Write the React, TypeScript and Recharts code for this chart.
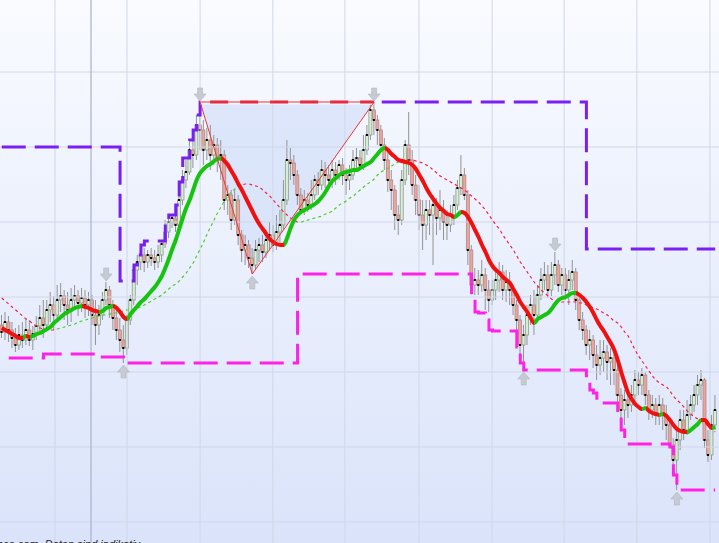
import React from 'react';
import { ComposedChart, Bar, Line, XAxis, YAxis, ReferenceLine, ReferenceArea, ReferenceDot } from 'recharts';

// daily candles: [open, high, low, close]
const ohlc: number[][] = [
  [675,685,662,668],[668,688,660,678],[678,684,658,670],[670,678,652,662],[662,672,648,655],
  [655,675,650,665],[665,678,652,660],[660,682,655,670],[670,680,654,660],[660,674,650,666],
  [666,684,660,674],[674,695,668,682],[682,700,662,675],[675,700,670,690],[690,708,678,695],
  [695,704,670,685],[685,715,682,700],[700,717,688,704],[704,710,680,695],[695,708,675,690],
  [690,712,678,700],[700,715,690,704],[704,710,684,697],[697,712,688,702],[702,710,682,695],
  [695,708,684,700],[700,705,675,685],[685,700,655,675],[675,695,665,685],[685,708,680,700],
  [700,718,695,710],[710,714,682,695],[695,700,670,682],[682,690,660,670],[670,682,648,660],
  [660,675,637,652],[652,685,645,680],[680,705,675,700],[700,735,695,730],[730,745,715,738],
  [738,755,730,745],[745,752,728,738],[738,750,732,745],[745,752,734,742],[742,750,730,738],
  [738,755,732,745],[745,758,738,756],[756,780,752,768],[768,785,762,778],[778,784,772,782],
  [782,795,768,775],[775,818,772,800],[800,830,795,820],[820,840,812,828],[828,860,825,850],
  [850,862,832,845],[845,885,840,875],[875,898,850,870],[870,880,835,850],[850,872,840,860],
  [860,875,830,845],[845,865,835,855],[855,862,828,840],[840,860,820,845],[845,850,790,800],
  [800,815,785,805],[805,810,770,780],[780,810,775,800],[800,805,755,765],[765,770,738,750],
  [750,765,735,755],[755,760,732,742],[742,752,726,735],[735,760,730,750],[750,762,738,755],
  [755,765,738,748],[748,770,742,760],[760,778,750,765],[765,775,748,755],[755,785,750,768],
  [768,790,755,775],[775,820,770,800],[800,860,795,840],[840,852,820,837],[837,845,815,825],
  [825,830,795,805],[805,812,785,790],[790,810,785,800],[800,807,788,795],[795,820,790,805],
  [805,825,800,820],[820,828,805,815],[815,840,810,830],[830,838,812,825],[825,835,810,820],
  [820,840,812,830],[830,838,815,825],[825,840,820,835],[835,842,815,825],[825,832,805,820],
  [820,835,810,825],[825,850,820,840],[840,852,832,842],[842,850,830,835],[835,865,830,850],
  [850,875,845,865],[865,895,860,890],[890,898,865,880],[880,885,855,870],[870,875,848,855],
  [855,862,830,840],[840,850,808,820],[820,830,790,810],[810,815,770,785],[785,795,765,780],
  [780,830,775,820],[820,860,815,855],[855,888,825,840],[840,850,805,815],[815,825,785,800],
  [800,815,770,785],[785,800,750,775],[775,800,760,790],[790,800,765,785],[785,805,735,795],
  [795,802,765,782],[782,810,770,790],[790,800,760,778],[778,790,760,775],[775,795,768,785],
  [785,805,775,795],[795,820,790,812],[812,845,805,825],[825,832,800,805],[805,810,735,750],
  [750,755,708,715],[715,732,705,720],[720,730,705,715],[715,740,708,725],[725,732,690,710],
  [710,720,688,700],[700,720,695,710],[710,730,700,720],[720,738,708,728],[728,735,700,710],
  [710,730,698,718],[718,728,695,710],[710,715,685,695],[695,700,670,680],[680,685,637,655],
  [655,675,630,665],[665,695,655,685],[685,705,675,695],[695,710,665,685],[685,715,680,705],
  [705,732,700,720],[720,738,710,725],[725,735,702,710],[710,738,704,725],[725,748,715,735],
  [735,740,708,715],[715,732,705,725],[725,732,700,710],[710,730,695,720],[720,740,710,728],
  [728,732,690,700],[700,705,670,680],[680,688,660,670],[670,675,645,655],[655,670,640,660],
  [660,665,632,645],[645,655,620,635],[635,660,625,642],[642,660,628,648],[648,655,620,638],
  [638,652,615,642],[642,650,615,630],[630,635,595,605],[605,612,580,590],[590,610,575,600],
  [600,608,582,595],[595,615,588,605],[605,630,595,620],[620,628,605,615],[615,632,605,625],
  [625,628,595,605],[605,610,580,590],[590,605,582,595],[595,602,575,585],[585,605,575,595],
  [595,602,570,585],[585,595,560,575],[575,582,554,555],[555,562,525,540],[540,570,510,560],
  [560,590,550,580],[580,590,560,570],[570,600,565,585],[585,605,580,595],[595,615,588,605],
  [605,625,595,615],[615,630,600,620],[620,622,552,560],[560,570,538,545],[545,585,540,575],
  [575,605,570,590],
];

// fast moving average (thick line)
const fastMA: number[] = [
  672,670,668,666,664,662,662,664,663,664,
  666,667,669,671,673,677,680,683,686,688,
  690,692,693,694,693,692,690,689,688,689,
  692,693,694,692,688,683,681,686,690,694,
  698,701,705,709,713,718,724,732,741,751,
  760,771,782,792,800,810,820,827,831,834,
  836,839,841,842,839,835,829,823,816,810,
  803,796,789,782,776,771,766,761,758,756,
  755,755,762,772,780,785,788,790,792,794,
  796,799,803,808,814,819,822,825,827,828,
  829,830,830,832,834,836,838,842,846,850,
  852,850,846,843,840,839,838,837,835,831,
  825,819,812,806,801,796,792,789,786,785,
  783,785,788,787,783,777,770,763,755,748,
  740,734,730,727,723,720,717,711,705,698,
  693,688,682,677,681,683,685,687,691,696,
  700,702,703,705,707,707,705,702,698,693,
  687,680,674,669,663,657,650,640,628,617,
  607,601,596,593,591,592,589,587,586,585,
  586,584,580,575,571,569,568,568,570,573,
  576,580,580,576,572,573,
];

// slow moving average (thin dashed line)
const slowMA: number[] = [
  702,699,696,693,690,687,684,681,679,676,
  674,672,671,670,670,670,671,672,673,674,
  675,676,678,679,680,681,682,683,684,685,
  685,686,687,687,688,689,690,690,691,692,
  693,695,697,699,701,703,705,708,711,714,
  716,719,723,727,732,737,744,751,758,766,
  773,780,787,793,799,804,808,811,814,815,
  816,816,815,814,813,810,807,804,800,796,
  792,788,785,782,780,778,778,779,780,781,
  782,783,784,786,787,789,792,795,797,799,
  802,804,807,810,813,816,818,821,825,828,
  830,832,834,836,838,839,840,840,840,839,
  838,837,835,833,830,827,824,822,820,818,
  816,814,812,810,807,804,801,798,794,790,
  785,780,775,771,765,760,755,750,744,738,
  733,728,723,718,714,710,707,704,701,699,
  698,698,698,698,698,698,697,697,695,694,
  692,691,689,687,685,682,679,677,673,668,
  664,657,650,644,639,634,629,624,620,617,
  615,613,609,604,600,597,593,589,586,583,
  581,579,577,574,571,568,
];

// upper channel (highest high)
const upperBand: number[] = [
  853,853,853,853,853,853,853,853,853,853,
  853,853,853,853,853,853,853,853,853,853,
  853,853,853,853,853,853,853,853,853,853,
  853,853,853,853,719,719,719,719,735,745,
  755,759,759,759,759,759,759,780,785,785,
  795,818,842,842,860,870,885,898,898,898,
  898,898,898,898,898,898,898,898,898,898,
  898,898,898,898,898,898,898,898,898,898,
  898,898,898,898,898,898,898,898,898,898,
  898,898,898,898,898,898,898,898,898,898,
  898,898,898,898,898,898,898,898,898,898,
  898,898,898,898,898,898,898,898,898,898,
  898,898,898,898,898,898,898,898,898,898,
  898,898,898,898,898,898,898,898,898,898,
  898,898,898,898,898,898,898,898,898,898,
  898,898,898,898,898,898,898,898,898,898,
  898,898,898,898,898,898,898,898,751,751,
  751,751,751,751,751,751,751,751,751,751,
  751,751,751,751,751,751,751,751,751,751,
  751,751,751,751,751,751,751,751,751,751,
  751,751,751,751,751,751,
];

// lower channel (lowest low)
const lowerBand: (number | null)[] = [
  null,null,642,642,642,642,642,642,642,642,
  642,642,646,646,646,646,646,646,646,646,
  646,646,646,646,646,646,646,643,643,643,
  643,643,643,643,643,637,637,637,637,637,
  637,637,637,637,637,637,637,637,637,637,
  637,637,637,637,637,637,637,637,637,637,
  637,637,637,637,637,637,637,637,637,637,
  637,637,637,637,637,637,637,637,637,637,
  637,637,637,637,637,726,726,726,726,726,
  726,726,726,726,726,726,726,726,726,726,
  726,726,726,726,726,726,726,726,726,726,
  726,726,726,726,726,726,726,726,726,726,
  726,726,726,726,726,726,726,726,726,726,
  726,726,726,726,726,705,688,687,687,680,
  670,669,669,669,669,669,669,669,653,637,
  630,630,630,630,630,630,630,630,630,630,
  630,630,630,630,630,630,630,630,618,610,
  607,598,597,597,597,597,597,583,570,556,
  556,556,556,556,556,556,556,556,556,556,
  556,556,553,525,510,510,510,510,510,510,
  510,510,510,510,510,510,
];

// colour of the moving averages: segment starting at index -> trend
const fastTrend: [number, string][] = [
  [0,'down'],[6,'up'],[7,'down'],[8,'up'],[23,'down'],[28,'up'],[32,'down'],[36,'up'],
  [63,'down'],[81,'up'],[110,'down'],[130,'up'],[132,'down'],[153,'up'],[165,'down'],
  [184,'up'],[185,'down'],[189,'up'],[190,'down'],[197,'up'],[201,'down'],[204,'up'],
];
const slowTrend: [number, string][] = [[0,'down'],[15,'up'],[69,'down'],[86,'up'],[117,'down']];

const gridPrices = [928, 853, 778, 703, 628, 553, 478];
const gridDates = [15.3, 36.0, 57.0, 77.9, 98.6, 119.9, 140.9, 161.6, 182.5, 203.5];
const yearStart = 25.65;

// triangle pattern: left top, bottom, right top
const triangle = { left: 57, bottom: 72, right: 107, top: 898, low: 726 };
const triangleEdges = [{ i: 57, v: 898 }, { i: 72, v: 726 }, { i: 107, v: 898 }];
const triangleTop = [{ i: 57, v: 898 }, { i: 107, v: 898 }];

const peakMarkers = [{ i: 30, v: 718 }, { i: 57, v: 898 }, { i: 107, v: 898 }, { i: 159, v: 748 }];
const troughMarkers = [{ i: 35, v: 637 }, { i: 72, v: 726 }, { i: 150, v: 630 }, { i: 194, v: 510 }];

const footer = 'nce.com. Daten sind indikativ';

const data = ohlc.map(([o, h, l, c], i) => ({
  i, o, h, l, c, range: [l, h],
  fast: fastMA[i], slow: slowMA[i], upper: upperBand[i], lower: lowerBand[i],
}));

const UP = '#16c40e';
const DOWN = '#f01010';
const SLOW_UP = '#4fcf2a';
const SLOW_DOWN = '#f5204a';

const lastIdx = ohlc.length - 1;
function gradientStops(trend: [number, string][], upCol: string, downCol: string) {
  const out: any[] = [];
  trend.forEach(([s, t], k) => {
    const e = k + 1 < trend.length ? trend[k + 1][0] : lastIdx;
    const col = t === 'up' ? upCol : downCol;
    out.push(<stop key={k + 'a'} offset={s / lastIdx} stopColor={col} />);
    out.push(<stop key={k + 'b'} offset={e / lastIdx} stopColor={col} />);
  });
  return out;
}

const Candle = (p: any) => {
  const { x, y, width, height, payload } = p;
  if (!payload || height == null) return null;
  const { o, h, l, c } = payload;
  const k = h > l ? height / (h - l) : 0;
  const py = (v: number) => y + (h - v) * k;
  const cx = x + width / 2;
  const top = py(Math.max(o, c));
  const bot = py(Math.min(o, c));
  const up = c >= o;
  return (
    <g>
      <line x1={cx} x2={cx} y1={y} y2={y + height} stroke="#939393" strokeWidth={1} />
      <rect x={cx - 1.5} y={top} width={3} height={Math.max(bot - top, 1)}
        fill={up ? '#d6efd0' : '#f0a39b'} stroke={up ? '#8e9c8e' : '#a88c88'} strokeWidth={0.8} />
      <rect x={cx - 1} y={py(c) - 1} width={2} height={2} fill="#000" />
    </g>
  );
};

const TriFill = (p: any) => {
  const { x, y, width, height } = p;
  const bx = x + (width * (triangle.bottom - triangle.left)) / (triangle.right - triangle.left);
  return <polygon points={`${x},${y} ${x + width},${y} ${bx},${y + height}`} fill="#cfdcf8" fillOpacity={0.6} />;
};

const DownArrow = (p: any) => {
  const { cx, cy } = p;
  const t = cy - 1;
  return <path d={`M${cx - 2.5},${t - 13} h5 v6 h3.5 l-6,7 l-6,-7 h3.5 z`} fill="#c6cad2" stroke="#b3b7c0" strokeWidth={0.6} />;
};
const UpArrow = (p: any) => {
  const { cx, cy } = p;
  const t = cy + 2;
  return <path d={`M${cx - 2.5},${t + 13} h5 v-6 h3.5 l-6,-7 l-6,7 h3.5 z`} fill="#c6cad2" stroke="#b3b7c0" strokeWidth={0.6} />;
};

export default function App() {
  return (
    <div style={{ position: 'absolute', left: 0, top: 0, width: 719, height: 543, overflow: 'hidden',
      background: 'linear-gradient(to bottom, #f9fbff 0%, #dae3fa 100%)' }}>
      <ComposedChart width={719} height={543} data={data} margin={{ top: 0, right: 0, bottom: 0, left: 0 }}>
        <defs>
          <linearGradient id="fastGrad" x1="0" y1="0" x2="1" y2="0">
            {gradientStops(fastTrend, UP, DOWN)}
          </linearGradient>
          <linearGradient id="slowGrad" x1="0" y1="0" x2="1" y2="0">
            {gradientStops(slowTrend, SLOW_UP, SLOW_DOWN)}
          </linearGradient>
        </defs>
        <XAxis dataKey="i" type="number" domain={[-0.5, 206.1]} hide allowDataOverflow />
        <YAxis type="number" domain={[457, 1000]} hide allowDataOverflow />
        {gridPrices.map((v) => (
          <ReferenceLine key={'h' + v} y={v} stroke="#d0d7e7" strokeWidth={1} />
        ))}
        {gridDates.map((v) => (
          <ReferenceLine key={'v' + v} x={v} stroke="#d0d7e7" strokeWidth={1} />
        ))}
        <ReferenceLine x={yearStart} stroke="#a8b2ca" strokeWidth={1.2} />
        <ReferenceArea x1={triangle.left} x2={triangle.right} y1={triangle.low} y2={triangle.top} shape={TriFill} />
        <Bar dataKey="range" barSize={3} shape={Candle} isAnimationActive={false} />
        <Line dataKey="slow" type="monotone" stroke="url(#slowGrad)" strokeWidth={1.2} strokeDasharray="3 3" dot={false} activeDot={false} isAnimationActive={false} />
        <Line dataKey="fast" type="monotone" stroke="url(#fastGrad)" strokeWidth={4} dot={false} activeDot={false} isAnimationActive={false} />
        <Line dataKey="upper" type="stepAfter" stroke="#7a1ff2" strokeWidth={3} strokeDasharray="24 9" dot={false} activeDot={false} isAnimationActive={false} />
        <Line dataKey="lower" type="stepAfter" stroke="#ff22e6" strokeWidth={3} strokeDasharray="24 9" dot={false} activeDot={false} isAnimationActive={false} />
        <Line data={triangleTop} dataKey="v" type="linear" stroke="#f3f6fe" strokeWidth={5} dot={false} activeDot={false} isAnimationActive={false} />
        <Line data={triangleTop} dataKey="v" type="linear" stroke="#e0233f" strokeWidth={3} strokeDasharray="18 12" strokeDashoffset={20} dot={false} activeDot={false} isAnimationActive={false} />
        <Line data={triangleEdges} dataKey="v" type="linear" stroke="#f03535" strokeWidth={1} dot={false} activeDot={false} isAnimationActive={false} />
        <Line data={triangleTop} dataKey="v" type="linear" stroke="#f03535" strokeWidth={1} dot={false} activeDot={false} isAnimationActive={false} />
        {peakMarkers.map((m) => (
          <ReferenceDot key={'p' + m.i} x={m.i} y={m.v} r={1} shape={DownArrow} />
        ))}
        {troughMarkers.map((m) => (
          <ReferenceDot key={'t' + m.i} x={m.i} y={m.v} r={1} shape={UpArrow} />
        ))}
      </ComposedChart>
      <svg width={719} height={543} style={{ position: 'absolute', left: 0, top: 0, pointerEvents: 'none' }}>
        <text x={-3} y={548} fontSize={11} fontStyle="italic" fontFamily="Arial, 'Liberation Sans', sans-serif" fill="#222">
          {footer}
        </text>
      </svg>
    </div>
  );
}
